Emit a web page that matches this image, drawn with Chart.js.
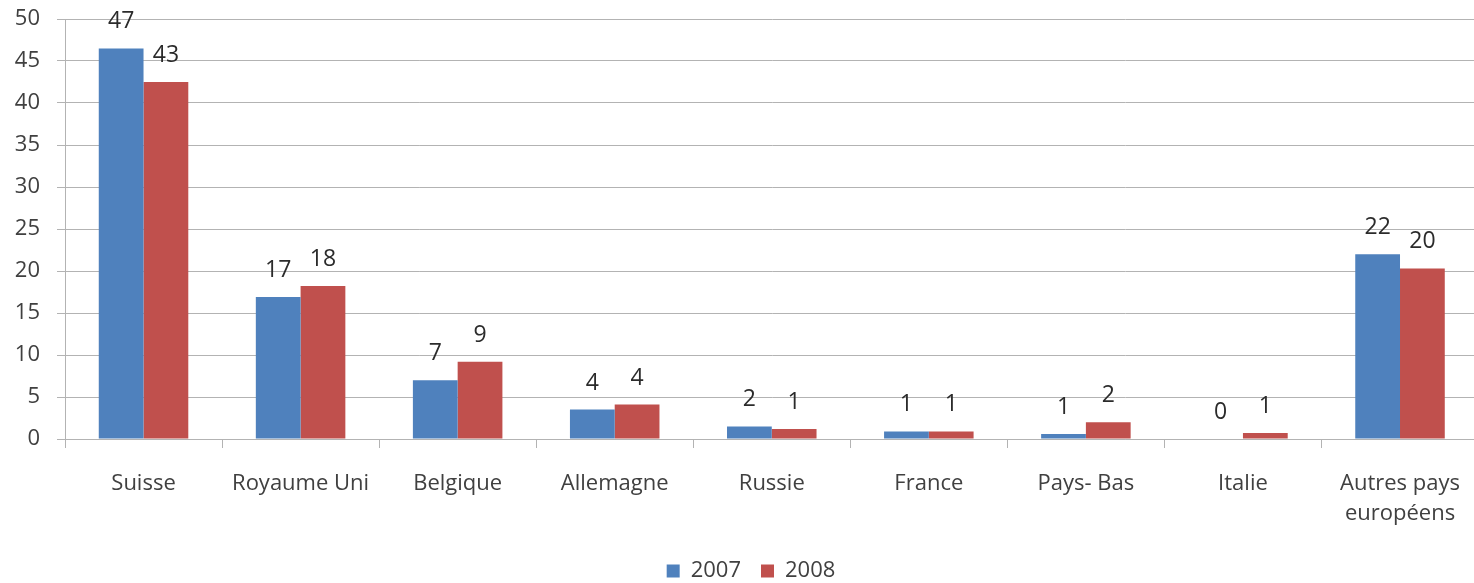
<!DOCTYPE html>
<html lang="fr">
<head>
	<meta charset="UTF-8">
	<title>2007 / 2008</title>
	<script src="https://cdn.jsdelivr.net/npm/chart.js"></script>
	<style>
		html, body { margin: 0; padding: 0; overflow: hidden; background: #fff; }
		#wrap { position: relative; width: 1480px; height: 592px; }
	</style>
</head>
<body>
	<div id="wrap"><canvas id="myChart"></canvas></div>
	<script type="text/javascript">
		// donnees
		var pays = ['Suisse', 'Royaume Uni', 'Belgique', 'Allemagne', 'Russie', 'France', 'Pays- Bas', 'Italie', ['Autres pays', 'européens']];
		var valeurs2007 = [46.5, 16.9, 7.0, 3.5, 1.5, 0.9, 0.6, 0, 22.0];
		var valeurs2008 = [42.5, 18.2, 9.2, 4.1, 1.2, 0.9, 2.0, 0.7, 20.3];
		var etiquettes2007 = ['47', '17', '7', '4', '2', '1', '1', '0', '22'];
		var etiquettes2008 = ['43', '18', '9', '4', '1', '1', '2', '1', '20'];
		var graduations = [0, 5, 10, 15, 20, 25, 30, 35, 40, 45, 50];

		var police = 'Open Sans';
		var gris = '#b3b3b3';

		// etiquettes au-dessus des barres
		var etiquettesPlugin = {
			id: 'etiquettes',
			afterLayout: function(chart) {
				// legende un peu decalee vers la droite comme sur l'original
				chart.legend.left += 11;
				chart.legend.right += 11;
			},
			afterDatasetsDraw: function(chart) {
				var ctx = chart.ctx;
				ctx.save();
				ctx.font = '23px "' + police + '"';
				ctx.fillStyle = '#2b2b2b';
				ctx.textAlign = 'center';
				ctx.textBaseline = 'alphabetic';
				chart.data.datasets.forEach(function(ds, i) {
					var meta = chart.getDatasetMeta(i);
					meta.data.forEach(function(bar, j) {
						ctx.fillText(ds.etiquettes[j], bar.x, bar.y - 20);
					});
				});
				ctx.restore();
			}
		};

		var myChart = new Chart(document.getElementById('myChart'), {
			type: 'bar',
			data: {
				labels: pays,
				datasets: [{
					label: '2007',
					data: valeurs2007,
					etiquettes: etiquettes2007,
					backgroundColor: '#4f81bd',
					categoryPercentage: 0.57,
					barPercentage: 1
				}, {
					label: '2008',
					data: valeurs2008,
					etiquettes: etiquettes2008,
					backgroundColor: '#c0504d',
					categoryPercentage: 0.57,
					barPercentage: 1
				}]
			},
			options: {
				responsive: true,
				maintainAspectRatio: false,
				animation: false,
				layout: { padding: { top: 19, right: 0, left: 0, bottom: 0 } },
				plugins: {
					legend: {
						position: 'bottom',
						labels: {
							boxWidth: 13,
							boxHeight: 13,
							padding: 20,
							color: '#404040',
							font: { family: police, size: 22 }
						}
					},
					tooltip: { enabled: false }
				},
				scales: {
					x: {
						grid: { drawOnChartArea: false, drawTicks: true, tickLength: 9, color: gris },
						border: { color: gris, width: 1 },
						ticks: {
							color: '#404040',
							padding: 20,
							maxRotation: 0,
							autoSkip: false,
							font: { family: police, size: 22, lineHeight: 1.4 }
						},
						afterFit: function(scale) { scale.height = 101; }
					},
					y: {
						min: 0,
						max: 50,
						afterBuildTicks: function(scale) {
							scale.ticks = graduations.map(function(v) { return { value: v }; });
						},
						grid: { color: gris, tickLength: 8 },
						border: { color: gris, width: 1 },
						ticks: {
							color: '#404040',
							padding: 17,
							font: { family: police, size: 22 }
						},
						afterFit: function(scale) {
							scale.width = 65;
							scale.paddingTop = 0;
							scale.paddingBottom = 0;
						}
					}
				}
			},
			plugins: [etiquettesPlugin]
		});
	</script>
</body>
</html>
